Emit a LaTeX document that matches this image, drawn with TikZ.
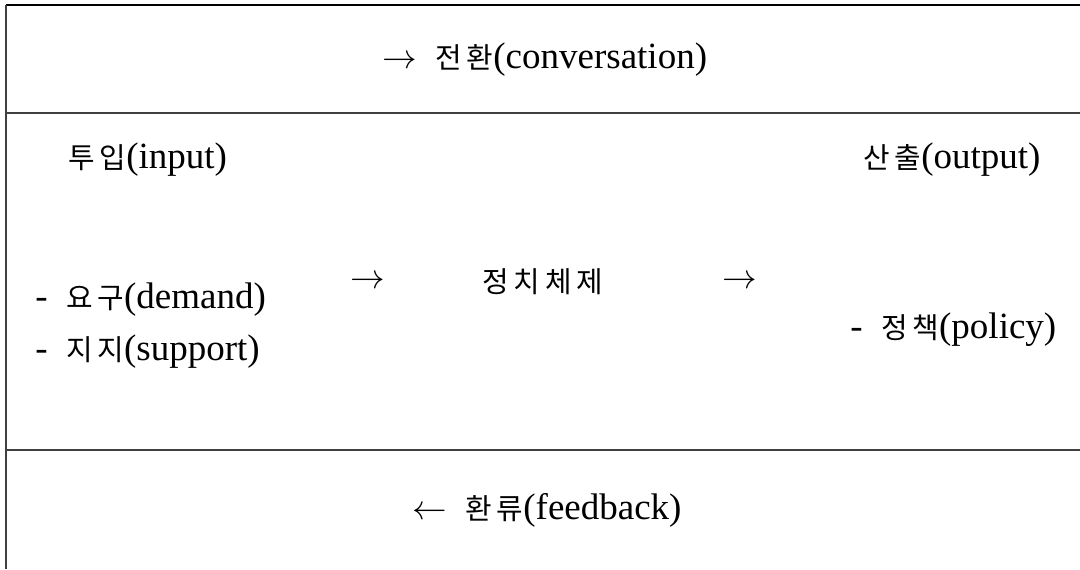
\documentclass[tikz,border=0pt]{standalone}
\usepackage{fontspec}
\setmainfont{Liberation Serif}
\newfontfamily\kr{Noto Sans CJK KR}[Scale=0.78]
\begin{document}
\begin{tikzpicture}[x=0.5pt,y=-0.5pt]
\tikzset{
  rule/.style={line width=1pt,draw=black!75},
  lbl/.style={anchor=west,inner sep=0pt,font=\fontsize{18.5}{21}\selectfont},
}
\useasboundingbox (0,0) rectangle (1080,569);
% frame lines
\coordinate (tl) at (6,5);
\coordinate (tr) at (1080,5);
\coordinate (bl) at (6,569);
\coordinate (m1l) at (6,113);
\coordinate (m1r) at (1080,113);
\coordinate (m2l) at (6,450);
\coordinate (m2r) at (1080,450);
\draw[rule,draw=black] (tl) -- (tr);
\draw[rule] (tl) -- (bl);
\draw[rule] (m1l) -- (m1r);
\draw[rule] (m2l) -- (m2r);
% texts
\node[lbl] (conv) at (382,60) {$\rightarrow$\ \ {\kr 전\,환}(conversation)};
\node[lbl] (inp) at (68,160) {{\kr 투\,입}(input)};
\node[lbl] (outp) at (863,160) {{\kr 산\,출}(output)};
\node[lbl] (dem) at (35,300) {-\ \ {\kr 요\,구}(demand)};
\node[lbl] (sup) at (35,352) {-\ \ {\kr 지\,지}(support)};
\node[lbl] (a1) at (350,282) {$\rightarrow$};
\node[lbl] (sys) at (482,282) {\kr 정\,치\,체\,제};
\node[lbl] (a2) at (722,282) {$\rightarrow$};
\node[lbl] (pol) at (850,330) {-\ \ {\kr 정\,책}(policy)};
\node[lbl] (fb) at (412,510) {$\leftarrow$\ \ {\kr 환\,류}(feedback)};
\end{tikzpicture}
\end{document}
